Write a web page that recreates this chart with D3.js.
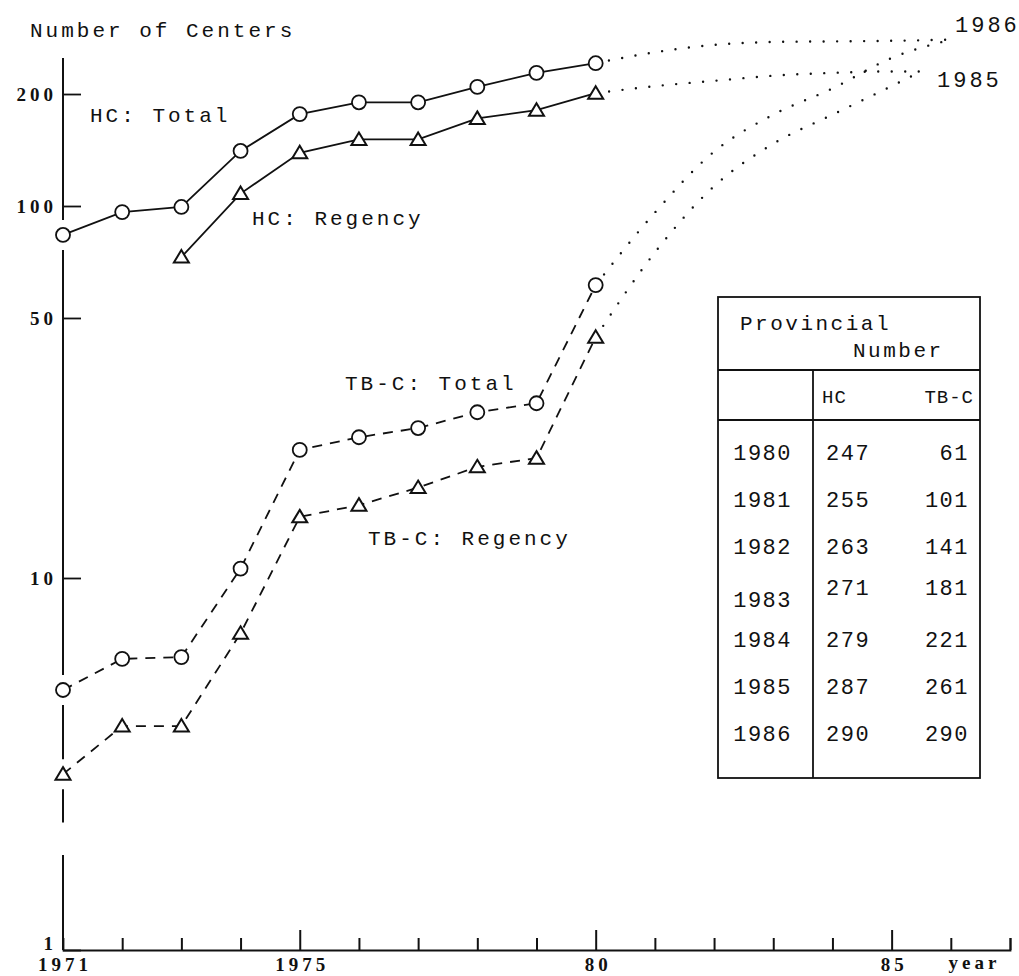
<!DOCTYPE html>
<html>
<head>
<meta charset="utf-8">
<script src="https://cdn.jsdelivr.net/npm/d3@7/dist/d3.min.js"></script>
<style>
body { margin: 0; background: #fff; }
.mono { font-family: "Liberation Mono", "Courier New", monospace; fill: #111; }
.serif { font-family: "Liberation Serif", "Times New Roman", serif; font-weight: bold; fill: #111; }
.tick text { font-family: "Liberation Serif", serif; font-weight: bold; font-size: 19px; letter-spacing: 4px; fill: #111; }
</style>
</head>
<body>
<svg class="chart" width="1019" height="976"></svg>
<script>
// observed values 1971-1980
var years = [1971, 1972, 1973, 1974, 1975, 1976, 1977, 1978, 1979, 1980];
var hcTotal = [83.6, 96.3, 99.4, 140.6, 176.6, 190, 190, 209, 228, 242];
var hcRegency = [null, null, 72.9, 108, 139, 151, 151, 172, 181, 201];
var tbTotal = [5.0, 6.06, 6.13, 10.6, 22.1, 23.9, 25.3, 27.9, 29.5, 61.3];
var tbRegency = [2.97, 4.0, 4.0, 7.1, 14.6, 15.7, 17.5, 19.9, 21.0, 44.4];

// dotted projections
var projYearsTotal = [1980, 1981, 1982, 1983, 1984, 1985, 1986];
var hcTotalProj = [242, 259, 271, 276, 277, 278, 280];
var tbTotalProj = [61.3, 96, 140, 176, 207, 250, 280];
var projYearsRegency = [1980, 1981, 1982, 1983, 1984, 1985, 1985.5];
var hcRegencyProj = [201, 210, 217, 224, 228, 230, 230];
var tbRegencyProj = [44.4, 75, 113, 147, 176, 210, 230];

// inset table
var tableYears = [1980, 1981, 1982, 1983, 1984, 1985, 1986];
var tableHC = [247, 255, 263, 271, 279, 287, 290];
var tableTBC = [61, 101, 141, 181, 221, 261, 290];

var yTicks = [1, 10, 50, 100, 200];
var xLabels = {1975: "1975", 1980: "80", 1985: "85"};

var svg = d3.select(".chart");

var x = d3.scaleLinear().domain([1971, 1987]).range([63, 1010]);
var y = d3.scaleLog().domain([1, 100]).range([950, 206]);

// x axis, ticks pointing up
var xAxis = svg.append("g")
    .attr("transform", "translate(0," + y(1) + ")")
    .call(d3.axisBottom(x)
        .tickValues(d3.range(1972, 1988))
        .tickSize(-12)
        .tickFormat(function (d) { return xLabels[d] || ""; }));
xAxis.select(".domain").attr("stroke", "#111").attr("stroke-width", 1.8);
xAxis.selectAll(".tick line")
    .attr("stroke", "#111").attr("stroke-width", 2)
    .attr("y2", function (d) { return d % 5 == 0 ? -20 : -12; });
xAxis.selectAll(".tick text").attr("y", 21).attr("dy", 0).attr("dx", 2);
xAxis.append("text")
    .attr("class", "serif")
    .attr("x", x(1971) + 2).attr("y", 21)
    .attr("text-anchor", "middle")
    .style("font-size", "19px").style("letter-spacing", "4px")
    .text("1971");
xAxis.append("text")
    .attr("class", "serif")
    .attr("x", x(1986.4)).attr("y", 19)
    .attr("text-anchor", "middle")
    .style("font-size", "19px").style("letter-spacing", "4px")
    .text("year");

// y axis with ticks pointing right
var yAxis = svg.append("g")
    .attr("transform", "translate(" + x(1971) + ",0)")
    .call(d3.axisLeft(y)
        .tickValues(yTicks)
        .tickSize(-18)
        .tickPadding(6)
        .tickFormat(d3.format("d")));
yAxis.select(".domain").remove();
yAxis.selectAll(".tick line").attr("stroke", "#111").attr("stroke-width", 1.8);
yAxis.selectAll(".tick text").filter(function (d) { return d == 1; }).attr("dy", "-0.05em");

// axis line drawn in pieces: break between 1.8 and 2.2, gaps round 1971 markers
var cuts = [[y(2.2), y(1.8)]];
[hcTotal, tbTotal, tbRegency].forEach(function (s) {
    cuts.push([y(s[0]) - 15, y(s[0]) + 15]);
});
cuts.sort(function (a, b) { return a[0] - b[0]; });
var segs = [], start = y(250);
cuts.forEach(function (c) { segs.push([start, c[0]]); start = c[1]; });
segs.push([start, y(1)]);
yAxis.selectAll(".seg").data(segs).enter().append("line")
    .attr("x1", 0).attr("x2", 0)
    .attr("y1", function (d) { return d[0]; })
    .attr("y2", function (d) { return d[1]; })
    .attr("stroke", "#111").attr("stroke-width", 2);

function pts(xs, vals) {
    return xs.map(function (d, i) { return {year: d, v: vals[i]}; })
        .filter(function (d) { return d.v != null; });
}

var line = d3.line()
    .x(function (d) { return x(d.year); })
    .y(function (d) { return y(d.v); });
var curve = d3.line()
    .curve(d3.curveMonotoneX)
    .x(function (d) { return x(d.year); })
    .y(function (d) { return y(d.v); });

// dotted projections
[[projYearsTotal, hcTotalProj], [projYearsTotal, tbTotalProj],
 [projYearsRegency, hcRegencyProj], [projYearsRegency, tbRegencyProj]].forEach(function (p) {
    svg.append("path")
        .attr("d", curve(pts(p[0], p[1])))
        .attr("fill", "none")
        .attr("stroke", "#111")
        .attr("stroke-width", 2.4)
        .attr("stroke-linecap", "round")
        .attr("stroke-dasharray", "0,13.5");
});

var series = [
    {vals: hcTotal, dash: null, shape: "circle"},
    {vals: hcRegency, dash: null, shape: "tri"},
    {vals: tbTotal, dash: "10,8", shape: "circle"},
    {vals: tbRegency, dash: "10,8", shape: "tri"}
];

series.forEach(function (s) {
    var p = pts(years, s.vals);
    svg.append("path")
        .attr("d", line(p))
        .attr("fill", "none")
        .attr("stroke", "#111")
        .attr("stroke-width", 1.8)
        .attr("stroke-dasharray", s.dash);

    var m = svg.selectAll(null).data(p).enter();
    if (s.shape == "circle") {
        m.append("circle")
            .attr("cx", function (d) { return x(d.year); })
            .attr("cy", function (d) { return y(d.v); })
            .attr("r", 7)
            .attr("fill", "#fff").attr("stroke", "#111").attr("stroke-width", 1.8);
    } else {
        m.append("path")
            .attr("transform", function (d) { return "translate(" + x(d.year) + "," + y(d.v) + ")"; })
            .attr("d", "M0,-7L7.5,5.5L-7.5,5.5Z")
            .attr("fill", "#fff").attr("stroke", "#111").attr("stroke-width", 2);
    }
});

// annotations
function note(txt, tx, ty, size) {
    svg.append("text")
        .attr("class", "mono")
        .attr("x", tx).attr("y", ty)
        .style("font-size", (size || 21) + "px")
        .style("letter-spacing", "3px")
        .text(txt);
}
note("Number of Centers", 30, 37);
note("HC: Total", 90, 122);
note("HC: Regency", 252, 225);
note("TB-C: Total", 345, 390);
note("TB-C: Regency", 368, 545);
note("1986", 955, 32, 22);
note("1985", 937, 87, 22);

// inset table
var tb = svg.append("g");
var tLeft = 718, tMid = 813, tRight = 980, tTop = 297, tBot = 778;
var ink = function (sel) { return sel.attr("stroke", "#111").attr("stroke-width", 1.8); };
ink(tb.append("rect").attr("x", tLeft).attr("y", tTop)
    .attr("width", tRight - tLeft).attr("height", tBot - tTop).attr("fill", "none"));
ink(tb.append("line").attr("x1", tLeft).attr("x2", tRight).attr("y1", 370).attr("y2", 370));
ink(tb.append("line").attr("x1", tLeft).attr("x2", tRight).attr("y1", 420).attr("y2", 420));
ink(tb.append("line").attr("x1", tMid).attr("x2", tMid).attr("y1", 370).attr("y2", tBot));

tb.append("text").attr("class", "mono").attr("x", 740).attr("y", 330)
    .style("font-size", "21px").style("letter-spacing", "2.5px").text("Provincial");
tb.append("text").attr("class", "mono").attr("x", 853).attr("y", 357)
    .style("font-size", "21px").style("letter-spacing", "2.5px").text("Number");
tb.append("text").attr("class", "mono").attr("x", 822).attr("y", 403)
    .style("font-size", "19px").style("letter-spacing", "1px").text("HC");
tb.append("text").attr("class", "mono").attr("x", 974).attr("y", 403)
    .attr("text-anchor", "end")
    .style("font-size", "19px").style("letter-spacing", "1px").text("TB-C");

var row = d3.scalePoint().domain(tableYears).range([460, 741]);
var rows = tb.selectAll(".row").data(tableYears).enter().append("g")
    .attr("transform", function (d) { return "translate(0," + row(d) + ")"; });
rows.append("text").attr("class", "mono")
    .attr("x", 792).attr("text-anchor", "end")
    .attr("dy", function (d) { return d == 1983 ? 6 : 0; })
    .style("font-size", "22px").style("letter-spacing", "1.5px")
    .text(function (d) { return d; });
rows.append("text").attr("class", "mono")
    .attr("x", 826)
    .attr("dy", function (d) { return d == 1983 ? -6 : 0; })
    .style("font-size", "22px").style("letter-spacing", "1.5px")
    .text(function (d, i) { return tableHC[i]; });
rows.append("text").attr("class", "mono")
    .attr("x", 969).attr("text-anchor", "end")
    .attr("dy", function (d) { return d == 1983 ? -6 : 0; })
    .style("font-size", "22px").style("letter-spacing", "1.5px")
    .text(function (d, i) { return tableTBC[i]; });
</script>
</body>
</html>
